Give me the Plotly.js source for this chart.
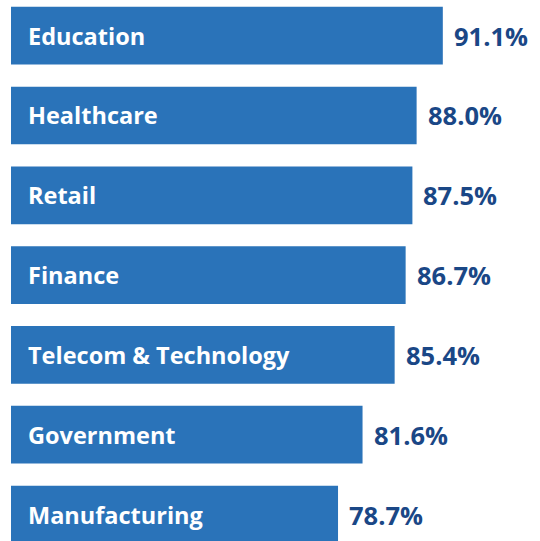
<!DOCTYPE html>
<html>
<head>
<meta charset="utf-8">
<script src="https://cdn.plot.ly/plotly-3.0.1.min.js"></script>
<style>html,body{margin:0;padding:0;background:#fff;}#chart{width:540px;height:541px;}</style>
</head>
<body>
<div id="chart"></div>
<script>
const categories = ["Education", "Healthcare", "Retail", "Finance", "Telecom & Technology", "Government", "Manufacturing"];
const values = [91.1, 88.0, 87.5, 86.7, 85.4, 81.6, 78.7];
const valueLabels = ["91.1%", "88.0%", "87.5%", "86.7%", "85.4%", "81.6%", "78.7%"];

const barColor = "#2a73b9";
const valueColor = "#1a4786";
const fontFamily = "'Open Sans', sans-serif";
const axisMin = 40;

const trace = {
  type: "bar",
  orientation: "h",
  y: categories,
  x: values.map(v => v - axisMin),
  base: axisMin,
  marker: {color: barColor, line: {width: 0}},
  hoverinfo: "skip"
};

const annotations = [];
categories.forEach((c, i) => {
  annotations.push({
    x: axisMin, y: c, xref: "x", yref: "y",
    text: "<b>" + c + "</b>", showarrow: false, xanchor: "left", yanchor: "middle",
    xshift: 15,
    font: {family: fontFamily, size: 23.5, color: "#ffffff"}
  });
  annotations.push({
    x: values[i], y: c, xref: "x", yref: "y",
    text: "<b>" + valueLabels[i] + "</b>", showarrow: false, xanchor: "left", yanchor: "middle",
    xshift: 9,
    font: {family: fontFamily, size: 25.5, color: valueColor}
  });
});

const layout = {
  width: 540, height: 541,
  margin: {l: 11, r: 0, t: 0, b: 0, pad: 0},
  paper_bgcolor: "#ffffff", plot_bgcolor: "#ffffff",
  showlegend: false,
  bargap: 0.277,
  xaxis: {range: [axisMin, 102.6], visible: false, showgrid: false, zeroline: false, fixedrange: true},
  yaxis: {type: "category", range: [6.332, -0.447], visible: false, showgrid: false, zeroline: false, fixedrange: true},
  annotations: annotations
};

Plotly.newPlot("chart", [trace], layout, {displayModeBar: false, staticPlot: true});
</script>
</body>
</html>
